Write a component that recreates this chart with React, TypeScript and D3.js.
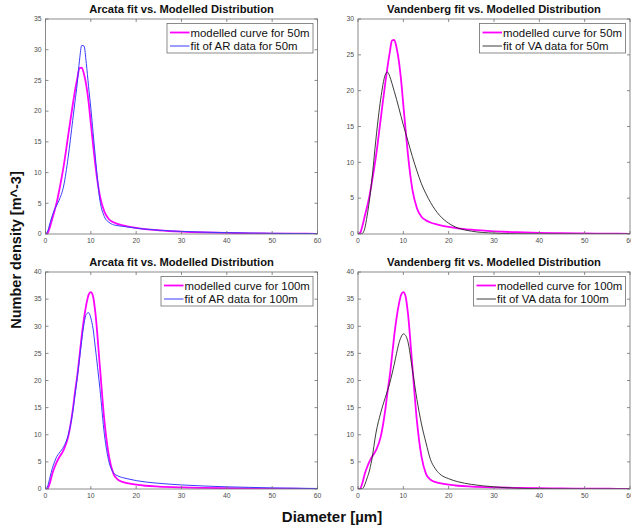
import * as d3 from "d3";

// diameters [µm] shared by every curve
const diameters = [0, 0.5, 1, 1.5, 2, 2.5, 3, 4, 5, 6, 6.5, 7, 7.5, 8, 8.5, 9, 9.5, 10, 10.5, 11, 12, 13, 14, 15, 16, 17, 18, 20, 22, 25, 30, 35, 40, 45, 50, 55, 60];

const modelled50m = [0, 0.2, 1.2, 2.5, 3.8, 5.2, 7, 11, 16, 21, 23.3, 25.3, 27.0, 27.1, 26.0, 24.2, 21.5, 18, 14.5, 11.2, 6.2, 3.6, 2.4, 1.9, 1.6, 1.4, 1.25, 1.0, 0.8, 0.6, 0.38, 0.25, 0.17, 0.11, 0.07, 0.05, 0.03];
const arFit50m = [0, 0.5, 1.8, 3.0, 4.0, 4.7, 5.5, 7.8, 12.5, 18.5, 21.5, 24.5, 28.3, 30.7, 30.6, 27.8, 24, 20.5, 16.5, 12.5, 5.5, 2.8, 1.9, 1.5, 1.35, 1.25, 1.15, 0.95, 0.8, 0.62, 0.42, 0.3, 0.22, 0.16, 0.11, 0.08, 0.05];
const vaFit50m = [0, 0, 0.1, 0.8, 2.5, 4.6, 7.2, 13.5, 18.8, 22.2, 22.6, 22.0, 21.0, 19.9, 18.8, 17.6, 16.4, 15.2, 14.1, 13.0, 10.8, 8.8, 7.0, 5.6, 4.4, 3.4, 2.6, 1.5, 0.85, 0.4, 0.12, 0.04, 0.01, 0, 0, 0, 0];
const modelled100m = [0, 0.1, 1.2, 2.8, 4.0, 5.0, 5.8, 7.2, 9.6, 14.5, 17.8, 20.8, 24.5, 28.3, 31.5, 34, 35.8, 36.3, 35.5, 32.5, 22.5, 12.5, 6, 2.8, 1.7, 1.3, 1.1, 0.8, 0.6, 0.45, 0.3, 0.2, 0.14, 0.1, 0.07, 0.05, 0.03];
const arFit100m = [0, 0.6, 2.2, 3.8, 5.0, 6.0, 6.6, 7.8, 9.9, 14.2, 17.3, 20.5, 24, 27.5, 30.5, 32.2, 32.5, 31.5, 29.5, 26, 18.5, 10, 5.0, 3.0, 2.4, 2.1, 1.9, 1.55, 1.3, 1.05, 0.75, 0.55, 0.4, 0.3, 0.2, 0.14, 0.1];
const vaFit100m = [0, 0, 0.05, 0.8, 2.0, 3.3, 5.2, 10.5, 14, 16.8, 18.1, 19.5, 21.2, 23, 25, 26.8, 28, 28.6, 28.3, 27.2, 22, 16.5, 12, 8.5, 5.4, 3.8, 2.8, 1.9, 1.35, 0.85, 0.4, 0.15, 0.06, 0.02, 0, 0, 0];

const titles = ["Arcata fit vs. Modelled Distribution", "Vandenberg fit vs. Modelled Distribution", "Arcata fit vs. Modelled Distribution", "Vandenberg fit vs. Modelled Distribution"];
const yMaxes = [35, 30, 40, 40];
const xTicks = [0, 10, 20, 30, 40, 50, 60];

const MAGENTA = "#ff00ff";
const BLUE = "#3b3bff";
const BLACK = "#262626";
const FONT = "'Liberation Sans', Arial, Helvetica, sans-serif";

type Series = { label: string; values: number[]; color: string; width: number };

const panelSeries: Series[][] = [
  [
    { label: "modelled curve for 50m", values: modelled50m, color: MAGENTA, width: 1.8 },
    { label: "fit of AR data for 50m", values: arFit50m, color: BLUE, width: 1 },
  ],
  [
    { label: "modelled curve for 50m", values: modelled50m, color: MAGENTA, width: 1.8 },
    { label: "fit of VA data for 50m", values: vaFit50m, color: BLACK, width: 0.9 },
  ],
  [
    { label: "modelled curve for 100m", values: modelled100m, color: MAGENTA, width: 1.8 },
    { label: "fit of AR data for 100m", values: arFit100m, color: BLUE, width: 1 },
  ],
  [
    { label: "modelled curve for 100m", values: modelled100m, color: MAGENTA, width: 1.8 },
    { label: "fit of VA data for 100m", values: vaFit100m, color: BLACK, width: 0.9 },
  ],
];

const cols = [[45.5, 317.5], [358, 630]];
const rows = [[19, 234], [272, 489]];

function Panel({ idx }: { idx: number }) {
  const [x0, x1] = cols[idx % 2];
  const [y0, y1] = rows[Math.floor(idx / 2)];
  const x = d3.scaleLinear().domain([0, 60]).range([x0, x1]);
  const y = d3.scaleLinear().domain([0, yMaxes[idx]]).range([y1, y0]);
  const yTicks = d3.range(0, yMaxes[idx] + 0.1, 5);
  const line = d3
    .line<number>()
    .x((_, i) => x(diameters[i]))
    .y((d) => y(d))
    .curve(d3.curveMonotoneX);
  const series = panelSeries[idx];
  const legW = series[0].label.includes("100") ? 152 : 146;
  const legX = x1 - 4.5 - legW;
  const legY = y0 + 4.5;
  const tk = 3;
  const clipId = `clip${idx}`;
  return (
    <g>
      <defs>
        <clipPath id={clipId}>
          <rect x={x0} y={y0} width={x1 - x0} height={y1 - y0} />
        </clipPath>
      </defs>
      <rect x={x0} y={y0} width={x1 - x0} height={y1 - y0} fill="white" />
      <g clipPath={`url(#${clipId})`}>
        {series.map((s, i) => (
          <path key={i} d={line(s.values) || ""} fill="none" stroke={s.color} strokeWidth={s.width} strokeLinejoin="round" />
        ))}
      </g>
      <rect x={x0} y={y0} width={x1 - x0} height={y1 - y0} fill="none" stroke="#6e6e6e" strokeWidth={0.8} />
      {xTicks.map((t) => (
        <g key={"x" + t}>
          <line x1={x(t)} x2={x(t)} y1={y1} y2={y1 - tk} stroke="#6e6e6e" strokeWidth={0.8} />
          <line x1={x(t)} x2={x(t)} y1={y0} y2={y0 + tk} stroke="#6e6e6e" strokeWidth={0.8} />
          <text x={x(t)} y={y1 + 8.5} fontSize={6.8} fill="#4d4d4d" textAnchor="middle" fontFamily={FONT}>
            {t}
          </text>
        </g>
      ))}
      {yTicks.map((t) => (
        <g key={"y" + t}>
          <line x1={x0} x2={x0 + tk} y1={y(t)} y2={y(t)} stroke="#6e6e6e" strokeWidth={0.8} />
          <line x1={x1} x2={x1 - tk} y1={y(t)} y2={y(t)} stroke="#6e6e6e" strokeWidth={0.8} />
          <text x={x0 - 4} y={y(t) + 2.3} fontSize={6.8} fill="#4d4d4d" textAnchor="end" fontFamily={FONT}>
            {t}
          </text>
        </g>
      ))}
      <text x={(x0 + x1) / 2} y={y0 - 6} fontSize={11.2} fontWeight="bold" textAnchor="middle" fontFamily={FONT} fill="#111">
        {titles[idx]}
      </text>
      <rect x={legX} y={legY} width={legW} height={29.5} fill="white" stroke="#6e6e6e" strokeWidth={0.8} />
      {series.map((s, i) => (
        <g key={"l" + i}>
          <line x1={legX + 3} x2={legX + 22.5} y1={legY + 9 + i * 13.5} y2={legY + 9 + i * 13.5} stroke={s.color} strokeWidth={s.width} />
          <text x={legX + 23.5} y={legY + 13 + i * 13.5} fontSize={11.4} fontFamily={FONT} fill="#111">
            {s.label}
          </text>
        </g>
      ))}
    </g>
  );
}

export default function App() {
  return (
    <svg width={631} height={528} style={{ position: "absolute", left: 0, top: 0, background: "white" }}>
      <rect width={631} height={528} fill="white" />
      {[0, 1, 2, 3].map((i) => (
        <Panel key={i} idx={i} />
      ))}
      <text transform="translate(21,250) rotate(-90)" fontSize={14.5} fontWeight="bold" textAnchor="middle" fontFamily={FONT} fill="#111">
        Number density [m^-3]
      </text>
      <text x={332} y={522} fontSize={15} fontWeight="bold" textAnchor="middle" fontFamily={FONT} fill="#111">
        Diameter [µm]
      </text>
    </svg>
  );
}
